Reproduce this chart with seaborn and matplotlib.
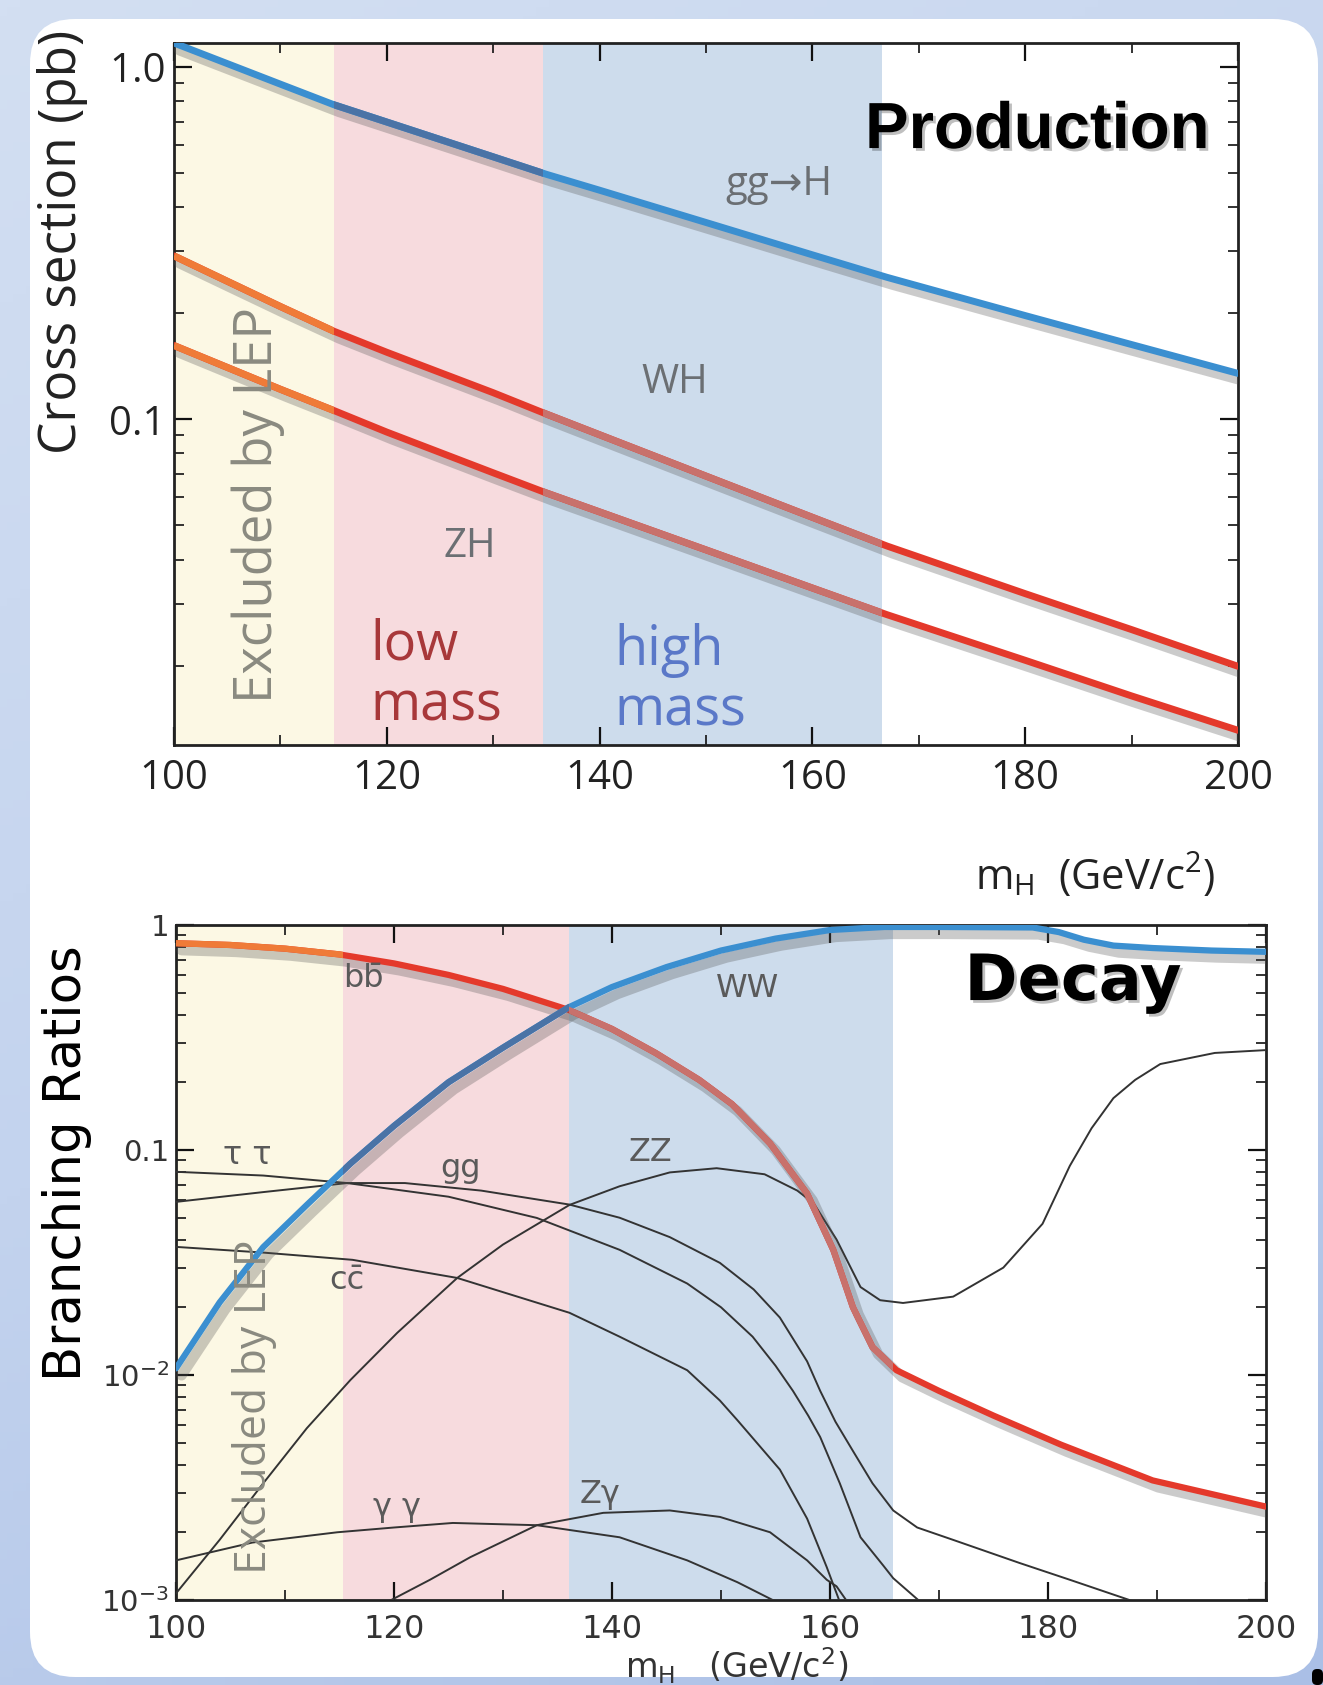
import numpy as np
import pandas as pd
import seaborn as sns
import matplotlib.pyplot as plt
import matplotlib.patheffects as pe
from matplotlib.patches import FancyBboxPatch, Rectangle
from matplotlib.colors import LinearSegmentedColormap
from matplotlib.ticker import FixedLocator, FixedFormatter, LogLocator, NullFormatter

# ------------------------------- DATA -------------------------------
# production cross sections (pb) vs Higgs mass
prod_mass = [100, 110, 115, 120, 130, 135, 140, 150, 160, 167, 180, 190, 200]
xsec_ggH = [1.17, 0.894, 0.782, 0.698, 0.556, 0.496, 0.447, 0.362, 0.293, 0.253, 0.197, 0.163, 0.135]
xsec_WH = [0.291, 0.209, 0.178, 0.155, 0.119, 0.1035, 0.0904, 0.069, 0.0527, 0.0437, 0.032, 0.0253, 0.0199]
xsec_ZH = [0.162, 0.1217, 0.106, 0.092, 0.0705, 0.0618, 0.0546, 0.0426, 0.0332, 0.0279, 0.0207, 0.0164, 0.0131]

# decay branching ratios vs Higgs mass
bb_mass = [100, 105, 110, 115, 120, 125, 130, 136, 140, 144, 148, 151, 154.5, 157.9,
           160.3, 162.1, 163.9, 166.1, 170, 175, 181.2, 189.6, 200]
br_bb = [0.83, 0.815, 0.785, 0.74, 0.675, 0.60, 0.52, 0.42, 0.345, 0.27, 0.205, 0.16, 0.107, 0.064,
         0.036, 0.020, 0.0133, 0.0105, 0.0085, 0.0066, 0.0049, 0.0034, 0.0026]

ww_mass = [100, 104, 108, 112, 116, 120, 125, 130, 136, 140, 145, 150, 155, 160, 165,
           170, 178.6, 181, 183.3, 186, 189.6, 195, 200]
br_WW = [0.0107, 0.021, 0.037, 0.057, 0.087, 0.128, 0.20, 0.285, 0.43, 0.53, 0.65, 0.77, 0.87,
         0.95, 0.98, 0.98, 0.975, 0.93, 0.86, 0.81, 0.79, 0.77, 0.76]

tau_mass = [100, 108, 115.7, 125, 133.1, 140.7, 146.9, 150, 152.9, 155, 156.6, 158, 159.1, 160.9,
            162.8, 164.9, 165.8, 168.3]
br_tautau = [0.080, 0.077, 0.0713, 0.062, 0.0499, 0.036, 0.0255, 0.020, 0.0148, 0.011, 0.0085,
             0.0066, 0.0053, 0.0033, 0.0019, 0.00142, 0.00125, 0.00098]

gg_mass = [100, 108, 115.7, 121, 128, 136.1, 140.7, 145.3, 149.9, 153, 155.4, 157.9, 159.1,
           160.5, 162.1, 163.9, 165.8, 168, 171.3, 177.4, 182, 188]
br_gg = [0.0588, 0.065, 0.0713, 0.0713, 0.066, 0.0572, 0.050, 0.041, 0.0315, 0.024, 0.018,
         0.0115, 0.0085, 0.0062, 0.0046, 0.0033, 0.0025, 0.0021, 0.00185, 0.00146, 0.00123, 0.00098]

cc_mass = [100, 108, 116.2, 125.8, 136.1, 140.7, 146.9, 149.9, 151.5, 155.4, 157.9, 159.7, 160.9]
br_cc = [0.0371, 0.035, 0.0325, 0.027, 0.0189, 0.0148, 0.0105, 0.0077, 0.0063, 0.0038, 0.0023,
         0.0014, 0.00098]

zz_mass = [100, 104, 108, 112, 116, 120.3, 125.8, 130, 136.1, 140.7, 145.3, 149.6, 154, 157,
           158.5, 160.6, 162.8, 164.6, 166.7, 171.3, 175.9, 179.5, 182, 184, 186, 188, 190.3,
           195.3, 200]
br_ZZ = [0.00107, 0.00185, 0.0033, 0.0058, 0.0095, 0.0154, 0.027, 0.038, 0.057, 0.069, 0.0795,
         0.083, 0.078, 0.066, 0.058, 0.040, 0.0246, 0.0215, 0.0209, 0.0223, 0.030, 0.047, 0.085,
         0.125, 0.17, 0.205, 0.241, 0.27, 0.278]

aa_mass = [100, 107, 114.8, 120, 125.4, 133.1, 140.7, 146.9, 151.5, 155.1]
br_aa = [0.0015, 0.0018, 0.0020, 0.0021, 0.0022, 0.00215, 0.0019, 0.0015, 0.0012, 0.00098]

za_mass = [119.4, 123.3, 127, 133.1, 139.2, 145.3, 149.9, 154.5, 157.9, 159.7, 160.6, 161.6]
br_Za = [0.00098, 0.00123, 0.00155, 0.00215, 0.00244, 0.0025, 0.00234, 0.0020, 0.0015, 0.00123,
         0.00115, 0.00098]

# mass regions: excluded by LEP / low mass / high mass
prod_regions = [100, 115, 134.7, 166.5]
decay_regions = [100, 115.3, 136.1, 165.8]

# ------------------------------- STYLE -------------------------------
W, H = 1323, 1685
YELLOW, PINK, LBLUE = '#fcf8e4', '#f7dbde', '#cddcec'
RED, ORANGE, DULLRED = '#e4392b', '#ef7b38', '#c8716c'
BLUE, DARKBLUE = '#3b8fd0', '#4a73a6'
GREY = '#6b6f73'

sns.set_theme(style="ticks")
plt.rcParams['font.family'] = ['Open Sans', 'DejaVu Sans']

fig = plt.figure(figsize=(W / 100, H / 100), dpi=100)

# slide background + white rounded card
bg = fig.add_axes([0, 0, 1, 1], zorder=-10)
cmap = LinearSegmentedColormap.from_list('bg', ['#d3dff2', '#c3d3ee', '#aabfe6'])
yy, xx = np.mgrid[0:1:200j, 0:1:200j]
bg.imshow(0.7 * yy + 0.3 * xx, cmap=cmap, aspect='auto', extent=[0, 1, 0, 1], origin='upper')
bg.set_axis_off()
card = FancyBboxPatch((0.30, 0.08), 12.88, 16.58, boxstyle='round,pad=0,rounding_size=0.45',
                      transform=fig.dpi_scale_trans, facecolor='white', edgecolor='none', zorder=-5)
fig.add_artist(card)
fig.add_artist(FancyBboxPatch((13.12, 0.0), 0.11, 0.16, boxstyle='round,pad=0,rounding_size=0.05',
                              transform=fig.dpi_scale_trans, facecolor='black', edgecolor='none'))


def curve(ax, mass, vals, base, lw, overrides=(), shadow=True):
    """Draw one curve with seaborn; re-colour parts that sit inside shaded regions."""
    df = pd.DataFrame({'m': mass, 'v': vals})
    sns.lineplot(data=df, x='m', y='v', ax=ax, color=base, lw=lw, estimator=None,
                 sort=False, zorder=4)
    line = ax.lines[-1]
    line.set_solid_capstyle('round')
    line.set_solid_joinstyle('round')
    if shadow:
        line.set_path_effects([pe.SimpleLineShadow(offset=(4, -5), shadow_color='#555555',
                                                   alpha=0.3, linewidth=lw + 3),
                               pe.Normal()])
    for x0, x1, col in overrides:
        seg, = ax.plot(mass, vals, color=col, lw=lw, zorder=5, solid_capstyle='butt',
                       solid_joinstyle='round')
        seg.set_clip_path(Rectangle((x0, 1e-5), x1 - x0, 1e5, transform=ax.transData))


def shade(ax, edges):
    for (x0, x1), col in zip(zip(edges[:-1], edges[1:]), [YELLOW, PINK, LBLUE]):
        ax.axvspan(x0, x1, color=col, lw=0, zorder=0.5)


def frame(ax, lab_size, lab_pad_x, lab_pad_y, color):
    ax.set_xlim(100, 200)
    ax.set_xticks(range(100, 201, 20))
    ax.xaxis.set_minor_locator(FixedLocator(range(110, 200, 20)))
    ax.yaxis.set_minor_locator(LogLocator(base=10, subs=np.arange(2, 10), numticks=20))
    ax.yaxis.set_minor_formatter(NullFormatter())
    ax.tick_params(which='major', direction='in', length=13, width=1.6, top=True, right=True,
                   labelsize=lab_size, colors='#111111', labelcolor=color)
    ax.tick_params(axis='x', which='major', pad=lab_pad_x)
    ax.tick_params(axis='y', which='major', pad=lab_pad_y)
    ax.tick_params(which='minor', direction='in', length=7, width=1.2, top=True, right=True,
                   colors='#111111')
    for s in ax.spines.values():
        s.set_linewidth(2)
        s.set_color('#222222')
    ax.set_facecolor('white')


# ------------------------------- PRODUCTION -------------------------------
ax1 = fig.add_axes([174 / W, 1 - 745 / H, 1064 / W, 702 / H])
ax1.set_yscale('log')
ax1.set_ylim(0.0119, 1.17)
shade(ax1, prod_regions)
e0, e1, e2, e3 = prod_regions
curve(ax1, prod_mass, xsec_ggH, BLUE, 5, [(e1, e2, DARKBLUE)])
curve(ax1, prod_mass, xsec_WH, RED, 5, [(e0, e1, ORANGE), (e2, e3, DULLRED)])
curve(ax1, prod_mass, xsec_ZH, RED, 5, [(e0, e1, ORANGE), (e2, e3, DULLRED)])
frame(ax1, 29, 10, 6, '#222222')
ax1.yaxis.set_major_locator(FixedLocator([0.1, 1.0]))
ax1.yaxis.set_major_formatter(FixedFormatter(['0.1', '1.0']))

ax1.set_ylabel('Cross section (pb)', fontsize=37, color='#222222', va='center')
ax1.yaxis.set_label_coords(-0.105, 0.716)
ax1.set_xlabel(r'm$_\mathregular{H}$  (GeV/c$^\mathregular{2}$)', fontsize=30, color='#222222', va='center')
ax1.xaxis.set_label_coords(0.866, -0.187)

ax1.text(181.1, 0.658, 'Production', fontsize=47, fontweight='bold', family='Liberation Sans',
         ha='center', va='center', color='black', zorder=8,
         path_effects=[pe.withSimplePatchShadow(offset=(2, -2), alpha=0.25)])
ax1.text(156.9, 0.462, 'gg→H', fontsize=29, color=GREY, ha='center', va='center', zorder=8)
ax1.text(147.1, 0.127, 'WH', fontsize=29, color=GREY, ha='center', va='center', zorder=8)
ax1.text(127.8, 0.0436, 'ZH', fontsize=29, color=GREY, ha='center', va='center', zorder=8)
ax1.text(107.9, 0.057, 'Excluded by LEP', fontsize=38, color='#8a8a80', rotation=90,
         ha='center', va='center', zorder=8)
ax1.text(118.5, 0.01875, 'low\nmass', fontsize=39, color='#a8383a', ha='left', va='center',
         linespacing=1.15, zorder=8)
ax1.text(141.4, 0.0181, 'high\nmass', fontsize=39, color='#5a78c8', ha='left', va='center',
         linespacing=1.15, zorder=8)

# ------------------------------- DECAY -------------------------------
ax2 = fig.add_axes([176 / W, 1 - 1600 / H, 1090 / W, 675 / H])
ax2.set_yscale('log')
ax2.set_ylim(1e-3, 1)
shade(ax2, decay_regions)
d0, d1, d2, d3 = decay_regions
thin = '#333333'
for m, v in [(tau_mass, br_tautau), (gg_mass, br_gg), (cc_mass, br_cc), (zz_mass, br_ZZ),
             (aa_mass, br_aa), (za_mass, br_Za)]:
    curve(ax2, m, v, thin, 1.4, shadow=False)
curve(ax2, bb_mass, br_bb, RED, 4.5, [(d0, d1, ORANGE), (d2, d3, DULLRED)])
curve(ax2, ww_mass, br_WW, BLUE, 4.5, [(d1, d2, DARKBLUE)])
frame(ax2, 21, 10, 5, '#333333')
ax2.yaxis.set_major_locator(FixedLocator([1e-3, 1e-2, 0.1, 1]))
ax2.yaxis.set_major_formatter(FixedFormatter([r'$\mathregular{10^{-3}}$', r'$\mathregular{10^{-2}}$',
                                              '0.1', '1']))
ax2.tick_params(axis='x', labelsize=23)
for t in ax2.get_xticklabels() + ax2.get_yticklabels():
    t.set_family('DejaVu Sans')

ax2.set_ylabel('Branching Ratios', fontsize=37, color='black', va='center', family='DejaVu Sans')
ax2.yaxis.set_label_coords(-0.100, 0.647)
ax2.set_xlabel(r'm$_\mathregular{H}$   (GeV/c$^\mathregular{2}$)', fontsize=24, color='#333333',
               va='center', family='DejaVu Sans')
ax2.xaxis.set_label_coords(0.514, -0.097)

ax2.text(182.3, 0.552, 'Decay', fontsize=46, fontweight='bold', family='DejaVu Sans',
         ha='center', va='center', color='black', zorder=8,
         path_effects=[pe.withSimplePatchShadow(offset=(2, -2), alpha=0.25)])
lab = dict(fontsize=23, color='#5a5a5a', ha='center', va='center', zorder=8, family='DejaVu Sans')
ax2.text(117.2, 0.581, 'bb\u0304', **lab)
ax2.text(152.4, 0.52, 'WW', **lab)
ax2.text(106.5, 0.095, 'τ τ', **lab)
ax2.text(126.1, 0.083, 'gg', **lab)
ax2.text(115.7, 0.0264, 'cc\u0304', **lab)
ax2.text(143.5, 0.097, 'ZZ', **lab)
ax2.text(120.3, 0.00259, 'γ γ', **lab)
ax2.text(138.9, 0.00293, 'Zγ', **lab)
ax2.text(107.2, 0.0072, 'Excluded by LEP', fontsize=32, color='#8a8a80', rotation=90,
         ha='center', va='center', zorder=8)

fig.savefig('out.png', dpi=100)
